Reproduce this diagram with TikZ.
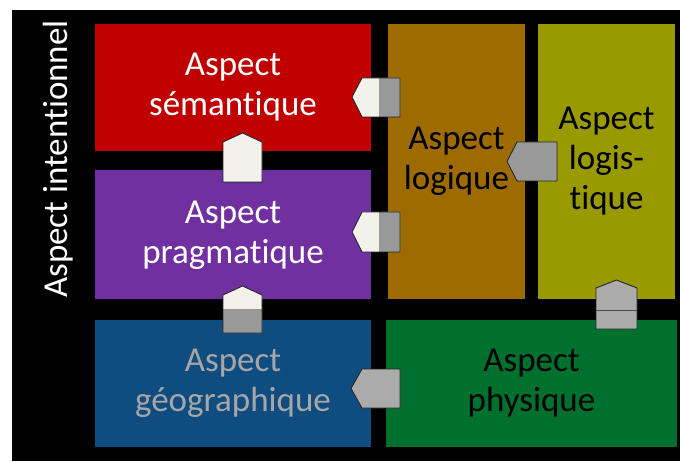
\documentclass[tikz,border=0pt]{standalone}
\usepackage{fontspec}
\setmainfont{Carlito}[Ligatures=NoCommon]
\definecolor{cRed}{HTML}{C00000}
\definecolor{cPurple}{HTML}{7030A0}
\definecolor{cBlue}{HTML}{0F4C80}
\definecolor{cBrown}{HTML}{9E6B00}
\definecolor{cOlive}{HTML}{999900}
\definecolor{cGreen}{HTML}{00702F}
\definecolor{cOff}{HTML}{F2F2EA}
\definecolor{cGrey}{HTML}{999999}
\definecolor{cLGrey}{HTML}{ABABAB}
\definecolor{cText}{HTML}{A6A6A6}
\begin{document}
\begin{tikzpicture}[x=1pt,y=-1pt,
  box/.style={draw=none, inner sep=0pt, align=center, font=\fontsize{35}{40}\selectfont},
  plug/.style={draw=black!85, line width=0.9pt, line join=miter},
]
\fill[white] (0,0) rectangle (680,462);
\useasboundingbox (0,0) rectangle (680,462);
\fill[black] (12,10) rectangle (680,461);
% boxes
\node[box, fill=cRed, text=white, minimum width=276pt, minimum height=127pt] (sem) at (233,87.5) {Aspect\\sémantique};
\node[box, fill=cPurple, text=white, minimum width=276pt, minimum height=129pt] (prag) at (233,235) {Aspect\\pragmatique};
\node[box, fill=cBlue, text=cText, minimum width=276pt, minimum height=127pt] (geo) at (233,383.5) {Aspect\\géographique};
\node[box, fill=cBrown, text=black, minimum width=137pt, minimum height=275pt] (log) at (456.5,161.5) {Aspect\\logique};
\node[box, fill=cOlive, text=black, minimum width=137pt, minimum height=275pt] (logis) at (606.5,161.5) {Aspect\\logis-\\tique};
\node[box, fill=cGreen, text=black, minimum width=291pt, minimum height=127pt] (phys) at (531.5,383.5) {Aspect\\physique};
% side label
\node[font=\fontsize{35}{40}\selectfont, text=white, rotate=90, inner sep=0pt] (intent) at (58,159) {Aspect intentionnel};
% plug sem -> log
\fill[cOff] (352,97) -- (362,78) -- (400,78) -- (400,117) -- (362,117) -- cycle;
\fill[cGrey] (379,78) rectangle (400,117);
\draw[plug] (352,97) -- (362,78) -- (400,78) -- (400,117) -- (362,117) -- cycle;
% plug prag -> log
\fill[cOff] (352,232) -- (362,212) -- (400,212) -- (400,252) -- (362,252) -- cycle;
\fill[cGrey] (379,212) rectangle (400,252);
\draw[plug] (352,232) -- (362,212) -- (400,212) -- (400,252) -- (362,252) -- cycle;
% plug log -> logis
\filldraw[plug, fill=cGrey] (507,161.5) -- (517,142) -- (557,142) -- (557,181) -- (517,181) -- cycle;
% plug sem/prag vertical
\filldraw[plug, fill=cOff] (223,182) -- (223,142) -- (242.5,133) -- (262,142) -- (262,182) -- cycle;
% plug prag/geo vertical
\fill[cOff] (223,333) -- (223,295) -- (242.5,286) -- (262,295) -- (262,333) -- cycle;
\fill[cGrey] (223,309) rectangle (262,333);
\draw[plug] (223,333) -- (223,295) -- (242.5,286) -- (262,295) -- (262,333) -- cycle;
% plug logis/phys vertical
\filldraw[plug, fill=cLGrey] (596,329) -- (596,288) -- (616.5,280) -- (637,288) -- (637,329) -- cycle;
\draw[black!70, line width=0.8pt] (596,310) -- (637,310);
% plug geo -> phys
\filldraw[plug, fill=cLGrey] (351,388.5) -- (362,369) -- (400,369) -- (400,408) -- (362,408) -- cycle;
\end{tikzpicture}
\end{document}
